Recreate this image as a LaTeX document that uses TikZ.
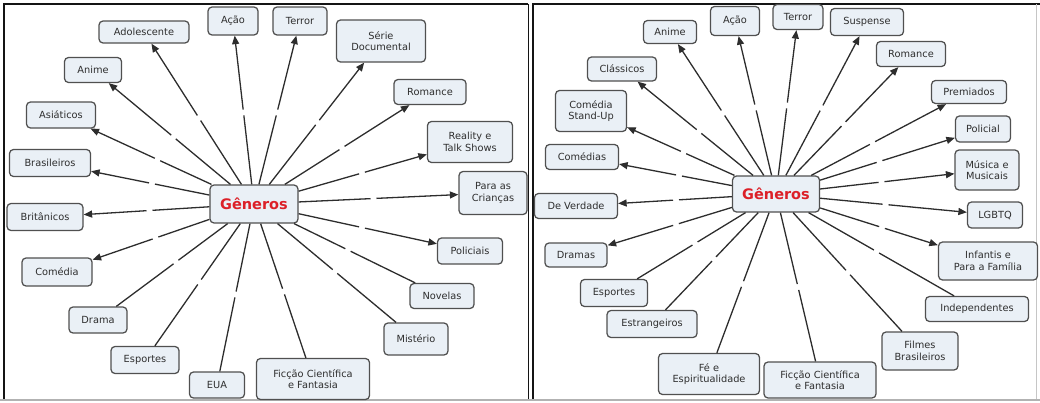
\documentclass[tikz,border=0pt]{standalone}
\usepackage{fontspec}
\setmainfont{DejaVu Sans}
\usetikzlibrary{arrows.meta,calc}
\definecolor{boxfill}{RGB}{234,240,246}
\definecolor{boxline}{RGB}{80,80,80}
\definecolor{linkcol}{RGB}{45,45,45}
\definecolor{hubred}{RGB}{220,32,40}
\definecolor{frame}{RGB}{20,20,20}

% concept-map link: source -> (empty linking phrase) -> target
\newcommand\cmlink[3][]{%
  \coordinate (lp) at ($(#2)!0.5!(#3)$);
  \draw[link] (#2) -- ($(lp)!3pt!(#2)$);
  \draw[link,#1] ($(lp)!3pt!(#3)$) -- (#3);}

\begin{document}
\begin{tikzpicture}[x=1pt,y=-1pt,
  concept/.style={draw=boxline, fill=boxfill, line width=1.25pt, rounded corners=4pt,
    font=\fontsize{9.8}{11.5}\selectfont, text=black!82, align=center, inner sep=1pt},
  hub/.style={concept, font=\fontsize{14.5}{16}\selectfont\bfseries, text=hubred},
  link/.style={draw=linkcol, line width=1.3pt},
  tip/.style={-{Triangle[length=8.5pt,width=7pt]}}]
\useasboundingbox (0,0) rectangle (1040,402);

% panel frames
\draw[frame, line width=1.6pt] (4,400) -- (4,4) -- (528,4);
\draw[frame, line width=1pt] (528,4) -- (528,400);
\draw[frame, line width=2pt] (533,400) -- (533,4) -- (1040,4);
\draw[gray!45, line width=0.8pt] (1036,4) -- (1036,400);
\draw[gray!60, line width=1.2pt] (0,400) -- (1040,400);

% ---------- left map ----------
\node[hub, minimum width=88, minimum height=38] (g1) at (254,204) {Gêneros};
\node[concept, minimum width=90, minimum height=22] (adol) at (144,32) {Adolescente};
\node[concept, minimum width=50, minimum height=28] (acao1) at (233,21) {Ação};
\node[concept, minimum width=54, minimum height=28] (terror1) at (300,21) {Terror};
\node[concept, minimum width=89, minimum height=42] (serie) at (381,41) {Série\\Documental};
\node[concept, minimum width=72, minimum height=25] (rom1) at (430,92) {Romance};
\node[concept, minimum width=85, minimum height=41] (real) at (470,142) {Reality e\\Talk Shows};
\node[concept, minimum width=68, minimum height=43] (crian) at (493,193) {Para as\\Crianças};
\node[concept, minimum width=65, minimum height=26] (polic) at (470,251) {Policiais};
\node[concept, minimum width=64, minimum height=25] (novel) at (442,296) {Novelas};
\node[concept, minimum width=64, minimum height=32] (mist) at (416,339) {Mistério};
\node[concept, minimum width=113, minimum height=41] (fic1) at (313,379) {Ficção Científica\\e Fantasia};
\node[concept, minimum width=55, minimum height=26] (eua) at (217,385) {EUA};
\node[concept, minimum width=68, minimum height=27] (esp1) at (145,360) {Esportes};
\node[concept, minimum width=58, minimum height=26] (drama) at (98,320) {Drama};
\node[concept, minimum width=70, minimum height=28] (comed) at (57,272) {Comédia};
\node[concept, minimum width=76, minimum height=27] (brit) at (45,217) {Britânicos};
\node[concept, minimum width=81, minimum height=27] (bras) at (50,163) {Brasileiros};
\node[concept, minimum width=69, minimum height=26] (asia) at (61,115) {Asiáticos};
\node[concept, minimum width=57, minimum height=25] (anime1) at (93,70) {Anime};

\foreach \t in {adol,acao1,terror1,serie,rom1,real,crian,polic,comed,brit,bras,asia,anime1}
  {\cmlink[tip]{g1}{\t}}
\foreach \t in {novel,mist,fic1,eua,esp1,drama}
  {\cmlink{g1}{\t}}

% ---------- right map ----------
\node[hub, minimum width=87, minimum height=36] (g2) at (776,194) {Gêneros};
\node[concept, minimum width=53, minimum height=23] (anime2) at (670,32) {Anime};
\node[concept, minimum width=49, minimum height=29] (acao2) at (735,21) {Ação};
\node[concept, minimum width=50, minimum height=25] (terror2) at (798,17) {Terror};
\node[concept, minimum width=73, minimum height=27] (susp) at (867,22) {Suspense};
\node[concept, minimum width=69, minimum height=25] (rom2) at (911,54) {Romance};
\node[concept, minimum width=75, minimum height=23] (prem) at (969,92) {Premiados};
\node[concept, minimum width=55, minimum height=26] (policial) at (983,129) {Policial};
\node[concept, minimum width=64, minimum height=40] (musica) at (987,170) {Música e\\Musicais};
\node[concept, minimum width=55, minimum height=26] (lgbtq) at (995,215) {LGBTQ};
\node[concept, minimum width=99, minimum height=38] (infant) at (988,261) {Infantis e\\Para a Família};
\node[concept, minimum width=103, minimum height=25] (indep) at (977,309) {Independentes};
\node[concept, minimum width=76, minimum height=38] (filmes) at (920,351) {Filmes\\Brasileiros};
\node[concept, minimum width=112, minimum height=36] (fic2) at (820,380) {Ficção Científica\\e Fantasia};
\node[concept, minimum width=101, minimum height=41] (fe) at (709,374) {Fé e\\Espiritualidade};
\node[concept, minimum width=90, minimum height=27] (estr) at (652,324) {Estrangeiros};
\node[concept, minimum width=67, minimum height=27] (esp2) at (614,293) {Esportes};
\node[concept, minimum width=62, minimum height=24] (dramas) at (576,255) {Dramas};
\node[concept, minimum width=83, minimum height=25] (verdade) at (576,206) {De Verdade};
\node[concept, minimum width=73, minimum height=25] (comedias) at (582,157) {Comédias};
\node[concept, minimum width=71, minimum height=41] (standup) at (591,111) {Comédia\\Stand-Up};
\node[concept, minimum width=69, minimum height=24] (class) at (622,69) {Clássicos};

\foreach \t in {anime2,acao2,terror2,susp,rom2,prem,policial,musica,lgbtq,infant,dramas,verdade,comedias,standup,class}
  {\cmlink[tip]{g2}{\t}}
\foreach \t in {indep,filmes,fic2,fe,estr,esp2}
  {\cmlink{g2}{\t}}
\end{tikzpicture}
\end{document}
